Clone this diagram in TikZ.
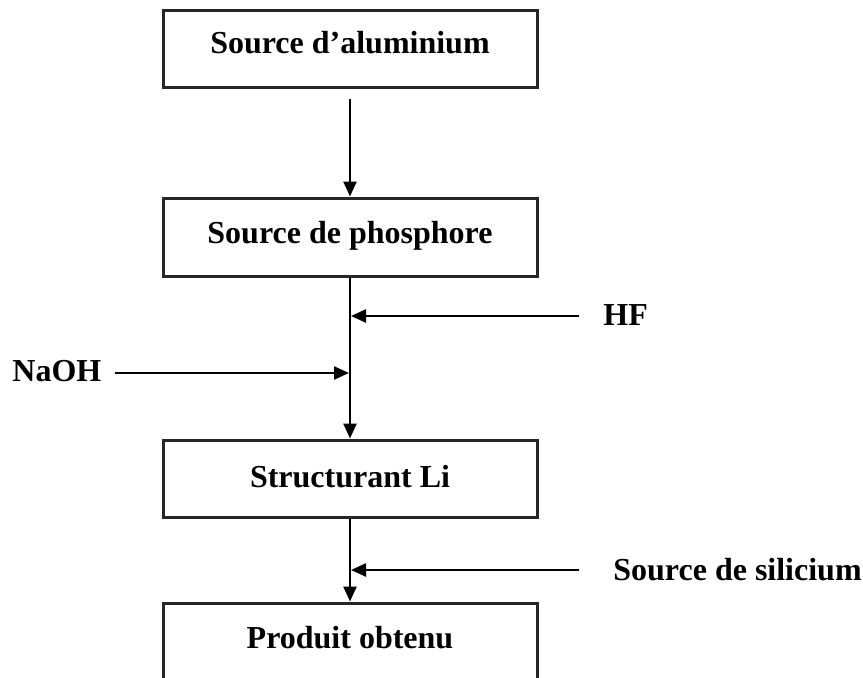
\documentclass[tikz,border=0pt]{standalone}
\usepackage{fontspec}
\setmainfont{Liberation Serif}
\usetikzlibrary{arrows.meta}
\begin{document}
\begin{tikzpicture}[x=0.5pt,y=-0.5pt,
  every node/.style={font=\fontsize{16}{19}\selectfont\bfseries},
  stagebox/.style={draw=black!85, line width=1.5pt, rectangle, minimum width=187pt,
                   inner xsep=0pt, inner ysep=0pt, anchor=base},
  inlabel/.style={inner sep=0pt, anchor=base west},
  arr/.style={line width=1.2pt, -{Triangle[length=7.5pt,width=6.5pt]}}
]
\clip (0,0) rectangle (863,677);

% process stages
\node[stagebox, text height=21.5pt, text depth=17pt]   (b1) at (350,53)  {Source d'aluminium};
\node[stagebox, text height=22.5pt, text depth=16.5pt] (b2) at (350,243) {Source de phosphore};
\node[stagebox, text height=23.5pt, text depth=15pt]   (b3) at (350,487) {Structurant Li};
\node[stagebox, text height=22.5pt, text depth=21pt]   (b4) at (350,648) {Produit obtenu};

% reagent labels
\node[inlabel] (hf)   at (603,325) {HF};
\node[inlabel] (naoh) at (12,381)  {NaOH};
\node[inlabel] (si)   at (613,580) {Source de silicium};

% main flow
\draw[arr] ([yshift=-5pt]b1.south) -- (b2.north);
\draw[arr] (b2.south) -- (b3.north);
\draw[arr] (b3.south) -- (b4.north);

% reagent inputs
\coordinate (hfin)   at (579,316);
\coordinate (naohin) at (115,373);
\coordinate (siin)   at (579,570);
\draw[arr, shorten >=0.5pt] (hfin) -- (hfin -| b2.south);
\draw[arr, shorten >=0.5pt] (naohin) -- (naohin -| b2.south);
\draw[arr, shorten >=0.5pt] (siin) -- (siin -| b3.south);
\end{tikzpicture}
\end{document}
